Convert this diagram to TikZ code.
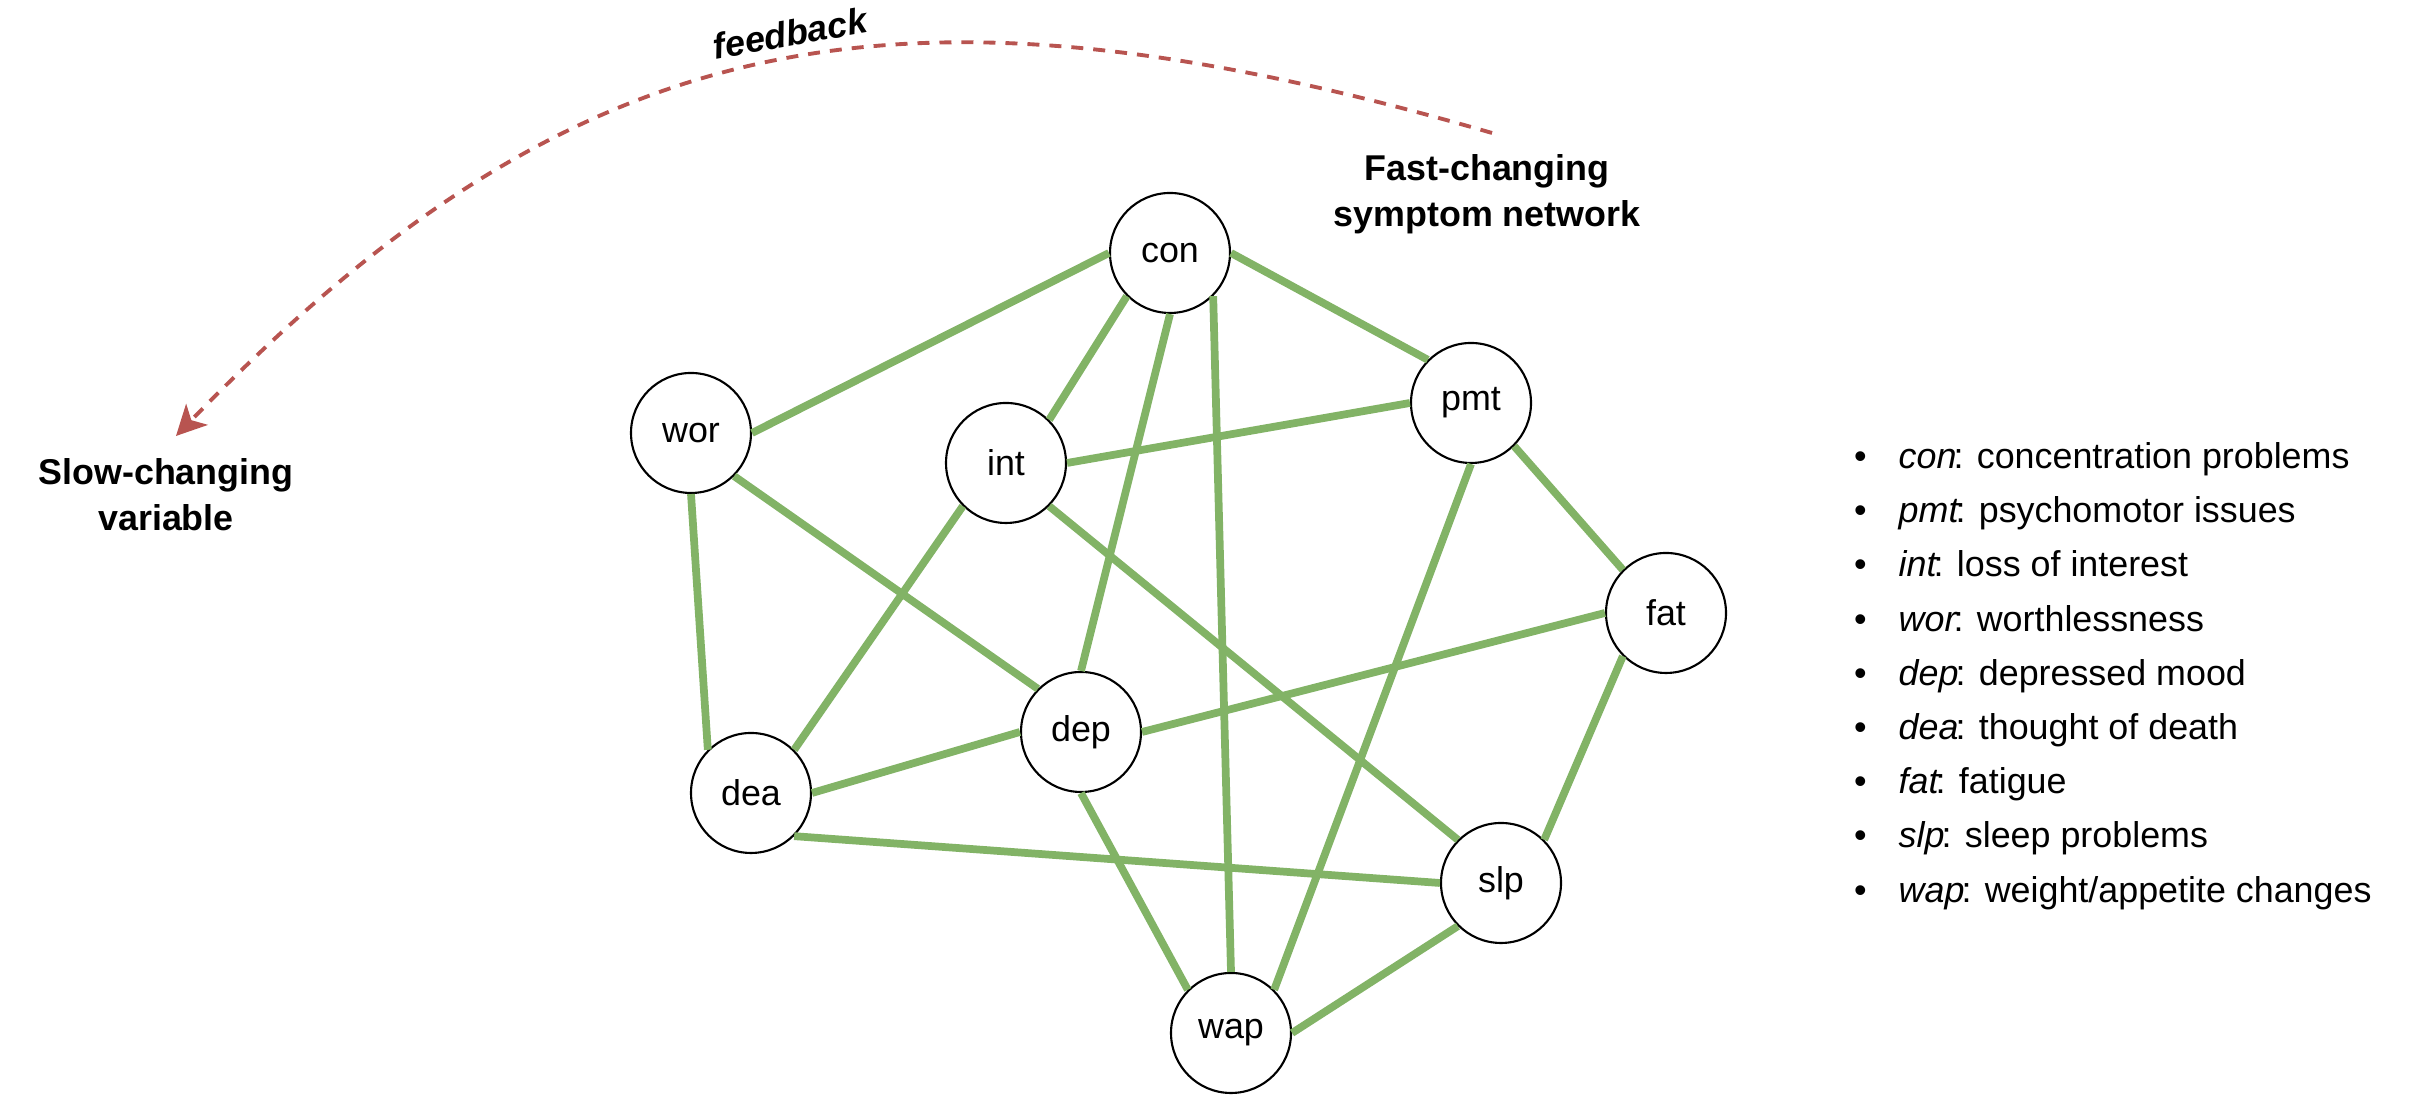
\documentclass[tikz,border=0pt]{standalone}
\usepackage{fontspec}
\setmainfont{Liberation Sans}
\usetikzlibrary{positioning,arrows.meta}

\definecolor{linkgreen}{HTML}{82B366}
\definecolor{loopred}{HTML}{B85450}
\newcommand{\abbr}[1]{\llap{\textbullet\hspace{0.32cm}}{\itshape #1}\kern-0.08em:}

\begin{document}
\begin{tikzpicture}[
        font=\fontsize{10.2}{13}\selectfont,
        symptom/.style={shape=circle,draw=black,line width=0.6pt,fill=white,minimum size=1.2cm,inner sep=0pt},
        link/.style={draw=linkgreen,line width=2.2pt},
        caption/.style={align=center,font=\fontsize{10.2}{13}\selectfont\bfseries},
        entry/.style={anchor=west,inner sep=0pt,text height=0.27cm,text depth=0.08cm},
        feedback/.style={draw=loopred,line width=1.1pt,dash pattern=on 0.12cm off 0.10cm,
            -{Stealth[length=0.3cm,width=0.3cm,inset=0.08cm]}}
    ]
            \useasboundingbox (0,0) rectangle (24.33,10.95);

            % symptom network
            \node[symptom] (con) at (11.70,8.42) {con};
            \node[symptom] (wor) at (6.91,6.62) {wor};
            \node[symptom] (int) at (10.06,6.32) {int};
            \node[symptom] (pmt) at (14.71,6.92) {pmt};
            \node[symptom] (fat) at (16.66,4.82) {fat};
            \node[symptom] (dep) at (10.81,3.63) {dep};
            \node[symptom] (dea) at (7.51,3.02) {dea};
            \node[symptom] (slp) at (15.01,2.12) {slp};
            \node[symptom] (wap) at (12.31,0.62) {wap};

            \path [link] (wor.east) edge (con.west);
            \path [link] (con.south west) edge (int.north east);
            \path [link] (con.south) edge (dep.north);
            \path [link] (con.south east) edge (wap.north);
            \path [link] (con.east) edge (pmt.north west);
            \path [link] (int.east) edge (pmt.west);
            \path [link] (int.south west) edge (dea.north east);
            \path [link] (int.south east) edge (slp.north west);
            \path [link] (wor.south east) edge (dep.north west);
            \path [link] (wor.south) edge (dea.north west);
            \path [link] (pmt.south east) edge (fat.north west);
            \path [link] (pmt.south) edge (wap.north east);
            \path [link] (fat.west) edge (dep.east);
            \path [link] (fat.south west) edge (slp.north east);
            \path [link] (dep.west) edge (dea.east);
            \path [link] (dep.south) edge (wap.north west);
            \path [link] (dea.south east) edge (slp.west);
            \path [link] (slp.south west) edge (wap.east);

            % labels and feedback loop
            \node[caption] (fast) at (14.87,9.01) {Fast-changing\\symptom network};
            \node[caption] (slow) at (1.66,6.00) {Slow-changing\\variable};

            \coordinate (fbstart) at (14.92,9.62);
            \coordinate (fbend) at (1.76,6.59);
            \draw [feedback] (fbstart) .. controls (8.92,11.36) and (5.75,10.70) .. (fbend);
            \node[rotate=10,font=\fontsize{10.2}{13}\selectfont\bfseries\itshape] (fblabel) at (7.90,10.62) {feedback};

            % legend
            \node[entry] (lcon) at (18.98,6.36) {\abbr{con} concentration problems};
            \node[entry,below=0.542cm of lcon.west,anchor=west] (lpmt) {\abbr{pmt} psychomotor issues};
            \node[entry,below=0.542cm of lpmt.west,anchor=west] (lint) {\abbr{int} loss of interest};
            \node[entry,below=0.542cm of lint.west,anchor=west] (lwor) {\abbr{wor} worthlessness};
            \node[entry,below=0.542cm of lwor.west,anchor=west] (ldep) {\abbr{dep} depressed mood};
            \node[entry,below=0.542cm of ldep.west,anchor=west] (ldea) {\abbr{dea} thought of death};
            \node[entry,below=0.542cm of ldea.west,anchor=west] (lfat) {\abbr{fat} fatigue};
            \node[entry,below=0.542cm of lfat.west,anchor=west] (lslp) {\abbr{slp} sleep problems};
            \node[entry,below=0.542cm of lslp.west,anchor=west] (lwap) {\abbr{wap} weight/appetite changes};
        \end{tikzpicture}
\end{document}
